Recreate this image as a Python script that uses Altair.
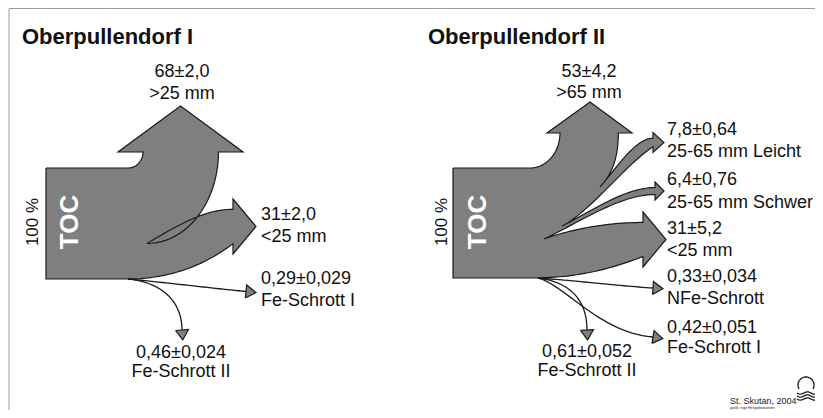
import numpy as np
import pandas as pd
import altair as alt

# ---------------- data ----------------
panel_titles = ["Oberpullendorf I", "Oberpullendorf II"]

p1_values = [68, 31, 0.29, 0.46]
p1_value_text = ["68±2,0", "31±2,0", "0,29±0,029", "0,46±0,024"]
p1_class_text = [">25 mm", "<25 mm", "Fe-Schrott I", "Fe-Schrott II"]

p2_values = [53, 7.8, 6.4, 31, 0.33, 0.42, 0.61]
p2_value_text = ["53±4,2", "7,8±0,64", "6,4±0,76", "31±5,2", "0,33±0,034", "0,42±0,051", "0,61±0,052"]
p2_class_text = [">65 mm", "25-65 mm Leicht", "25-65 mm Schwer", "<25 mm", "NFe-Schrott", "Fe-Schrott I", "Fe-Schrott II"]

source_text = ["100 %", "TOC"]
credit_text = ["St. Skutan, 2004", "grafik: inge Hengstbatransfer"]

FILL = "#7f7f7f"
EDGE = "#1a1a1a"
FONT = "Liberation Sans"


# ---------------- geometry helpers ----------------
def bez(p0, p1, p2, p3, n=30):
    t = np.linspace(0, 1, n)[:, None]
    P = [np.array(p, dtype=float) for p in (p0, p1, p2, p3)]
    pts = (1 - t) ** 3 * P[0] + 3 * (1 - t) ** 2 * t * P[1] + 3 * (1 - t) * t ** 2 * P[2] + t ** 3 * P[3]
    return [tuple(p) for p in pts]


def arc(cx, cy, rx, ry, a0, a1, n=24):
    a = np.radians(np.linspace(a0, a1, n))
    return [(cx + rx * np.cos(v), cy + ry * np.sin(v)) for v in a]


def head(end, prev, length, hw):
    e = np.array(end, float)
    d = e - np.array(prev, float)
    d = d / np.linalg.norm(d)
    nrm = np.array([-d[1], d[0]])
    tip = e + d * length
    return [tuple(e + nrm * hw), tuple(tip), tuple(e - nrm * hw), tuple(e + nrm * hw)]


polys = []   # filled outlines
lines = []   # thin flows


def add_poly(name, pts):
    pts = list(pts) + [pts[0]]
    for i, (x, y) in enumerate(pts):
        polys.append({"id": name, "o": i, "x": x, "y": y})


def add_line(name, pts):
    for i, (x, y) in enumerate(pts):
        lines.append({"id": name, "o": i, "x": x, "y": y})


# ---------- panel I ----------
top1, H1, x01 = 168, 111, 46
w1 = [v / 100 * H1 for v in p1_values]
bot1 = top1 + H1
sl = 143
sr = sl + w1[0]
hb = 152
apx, apy = 147, top1 + w1[0]
c31 = 226.5
pts = [(x01, top1), (128, top1)]
pts += arc(128, hb, sl - 128, top1 - hb, 90, 0)
pts += [(118, hb), ((118 + 243) / 2, 106), (243, hb), (sr, hb)]
pts += arc(apx, hb, sr - apx, apy - hb, 0, 90)
pts += bez((apx, apy), (180, 224), (205, c31 - w1[1] / 2), (233, c31 - w1[1] / 2))
pts += [(233, 199), (256, c31), (233, 254)]
pts += bez((128, bot1), (170, bot1), (205, 265), (233, c31 + w1[1] / 2))[::-1]
pts += [(x01, bot1)]
add_poly("p1_main", pts)

l = bez((128, bot1), (170, 283), (210, 288), (246, 291.5))
add_line("p1_fe1", l)
add_poly("p1_fe1_h", head(l[-1], l[-4], 10, 6.5))
l = bez((128, bot1), (160, 282), (182, 300), (182, 330))
add_line("p1_fe2", l)
add_poly("p1_fe2_h", head(l[-1], l[-4], 10, 6.5))

# ---------- panel II ----------
top2, H2, x02 = 168, 110, 453
w2 = [v / 100 * H2 for v in p2_values]
bot2 = top2 + H2
sl2 = 560
sr2 = sl2 + w2[0]
hb2 = 133
pts = [(x02, top2), (530, top2)]
pts += arc(530, hb2, sl2 - 530, top2 - hb2, 90, 0)
pts += [(547, hb2), (590, 102), (632, hb2), (sr2, hb2)]
pts += bez((sr2, hb2), (sr2, 160), (611, 175), (600, 187))
c78 = 142.5
pts += bez((600, 187), (615, 170), (635, c78 - w2[1] / 2), (653, c78 - w2[1] / 2))
pts += [(653, 132.5), (664, c78), (653, 152.5)]
pts += bez((562, 226), (590, 212), (625, 165), (653, c78 + w2[1] / 2))[::-1]
c64 = 191
pts += bez((562, 226), (590, 212), (625, c64 - w2[2] / 2), (655, c64 - w2[2] / 2))
pts += [(655, 182), (664, c64), (655, 200)]
pts += bez((544, 239), (580, 222), (620, c64 + w2[2] / 2), (655, c64 + w2[2] / 2))[::-1]
c31b = 239.5
pts += bez((544, 239), (575, 228), (610, c31b - w2[3] / 2), (643, c31b - w2[3] / 2))
pts += [(643, 212), (666, c31b), (643, 267)]
pts += bez((536, bot2), (585, bot2 - 1), (615, 267), (643, c31b + w2[3] / 2))[::-1]
pts += [(x02, bot2)]
add_poly("p2_main", pts)

l = bez((538, bot2), (580, 281), (620, 286), (653, 288))
add_line("p2_nfe", l)
add_poly("p2_nfe_h", head(l[-1], l[-4], 10, 6.5))
l = bez((538, bot2), (565, 285), (600, 333), (653, 337))
add_line("p2_fe1", l)
add_poly("p2_fe1_h", head(l[-1], l[-4], 10, 6.5))
l = bez((538, bot2), (570, 282), (587, 300), (587, 330))
add_line("p2_fe2", l)
add_poly("p2_fe2_h", head(l[-1], l[-4], 10, 6.5))

# ---------- logo (small) ----------
add_line("logo_a", arc(806, 385, 8, 8, 150, 390, 30))
for k, yy in enumerate([393, 396, 399]):
    xs = np.linspace(797, 815, 12)
    add_line(f"logo_w{k}", [(x, yy + 1.2 * np.sin((x - 797) / 2.2)) for x in xs])

poly_df = pd.DataFrame(polys)
line_df = pd.DataFrame(lines)

# ---------- texts ----------
titles = pd.DataFrame({"x": [22, 428], "y": [37, 37], "t": panel_titles})

left_lbl = pd.DataFrame({
    "x": [261] * 4 + [667] * 10,
    "y": [215, 237, 279, 301,
          130, 152, 180, 203, 229, 251, 277, 299, 328, 348],
    "t": [p1_value_text[1], p1_class_text[1], p1_value_text[2], p1_class_text[2],
          p2_value_text[1], p2_class_text[1], p2_value_text[2], p2_class_text[2],
          p2_value_text[3], p2_class_text[3], p2_value_text[4], p2_class_text[4],
          p2_value_text[5], p2_class_text[5]],
})
center_lbl = pd.DataFrame({
    "x": [182, 182, 181, 181, 589, 589, 587, 587],
    "y": [72, 94, 353, 372, 72, 93, 352, 371],
    "t": [p1_value_text[0], p1_class_text[0], p1_value_text[3], p1_class_text[3],
          p2_value_text[0], p2_class_text[0], p2_value_text[6], p2_class_text[6]],
})
pct = pd.DataFrame({"x": [33, 442], "y": [222, 222], "t": [source_text[0]] * 2})
toc = pd.DataFrame({"x": [70, 478], "y": [222, 222], "t": [source_text[1]] * 2})
credit = pd.DataFrame({"x": [730, 730], "y": [400.5, 408.3], "t": credit_text, "s": [9, 3.5]})

frame = pd.DataFrame({"x": [9, 9], "y": [8.5, 8.5], "x2": [815, 9], "y2": [8.5, 410]})

X = alt.X("x:Q", scale=alt.Scale(domain=[8, 815], nice=False, zero=False), axis=None)
Y = alt.Y("y:Q", scale=alt.Scale(domain=[8, 410], nice=False, zero=False, reverse=True), axis=None)

frame_l = alt.Chart(frame).mark_rule(color="#9a9a9a", strokeWidth=1).encode(
    x=X, y=Y, x2="x2:Q", y2="y2:Q")

poly_l = alt.Chart(poly_df).mark_line(
    fill=FILL, filled=True, stroke=EDGE, strokeWidth=1.2, strokeJoin="miter"
).encode(x=X, y=Y, order="o:Q", detail="id:N")

line_l = alt.Chart(line_df).mark_line(stroke=EDGE, strokeWidth=1.3).encode(
    x=X, y=Y, order="o:Q", detail="id:N")


def txt(df, **kw):
    base = dict(font=FONT, baseline="middle", color="#111111")
    base.update(kw)
    return alt.Chart(df).mark_text(**base).encode(x=X, y=Y, text="t:N")


layers = [
    frame_l, poly_l, line_l,
    txt(titles, align="left", fontSize=22, fontWeight="bold"),
    txt(left_lbl, align="left", fontSize=18),
    txt(center_lbl, align="center", fontSize=18),
    txt(pct, align="center", fontSize=17, angle=270),
    txt(toc, align="center", fontSize=26, fontWeight="bold", angle=270, color="white"),
    alt.Chart(credit).mark_text(font=FONT, align="left", baseline="middle", color="#222").encode(
        x=X, y=Y, text="t:N", size=alt.Size("s:Q", scale=None)),
]

chart = alt.layer(*layers).properties(
    width=807, height=402, padding=0,
    autosize=alt.AutoSizeParams(type="none"),
    background="white",
).configure_view(stroke=None)

chart.save("out.html", embed_options={"renderer": "svg", "actions": False})
